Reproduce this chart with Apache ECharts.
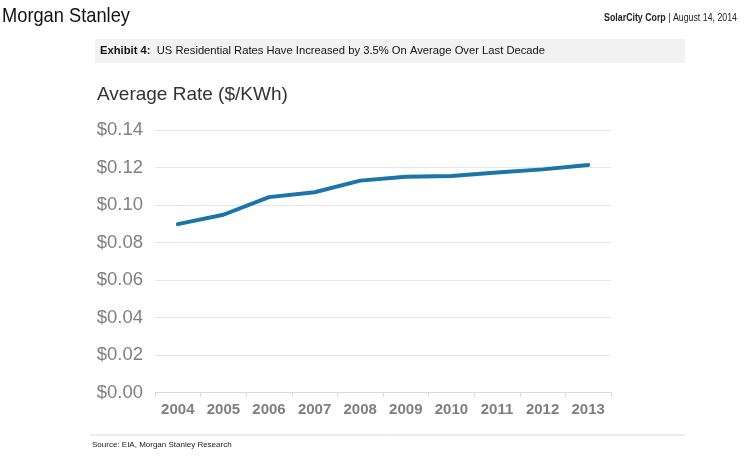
<!DOCTYPE html>
<html><head><meta charset="utf-8">
<script src="https://cdn.jsdelivr.net/npm/echarts@6/dist/echarts.min.js"></script>
<style>html,body{margin:0;padding:0;background:#fff}#c{width:745px;height:462px}</style>
</head><body><div id="c"></div>
<script>
var years = ['2004','2005','2006','2007','2008','2009','2010','2011','2012','2013'];
var rates = [0.0898, 0.0948, 0.1042, 0.1068, 0.1130, 0.1151, 0.1155, 0.1173, 0.1190, 0.1213];
var yTicks = [0, 0.02, 0.04, 0.06, 0.08, 0.10, 0.12, 0.14];

var chart = echarts.init(document.getElementById('c'), null, {renderer:'canvas'});
chart.setOption({
  animation:false,
  backgroundColor:'#fff',
  grid:{left:155, right:134, top:130, bottom:69.5, containLabel:false},
  xAxis:{
    type:'category', data:years, boundaryGap:true,
    axisLine:{show:true, lineStyle:{color:'#d9d9d9', width:1}},
    axisTick:{show:true, length:4, lineStyle:{color:'#d9d9d9'}},
    axisLabel:{color:'#7f7f7f', fontSize:15, fontWeight:'bold', fontFamily:'Liberation Sans, Arial', margin:10}
  },
  yAxis:{
    type:'value', min:yTicks[0], max:yTicks[yTicks.length-1], interval:0.02,
    axisLine:{show:false}, axisTick:{show:false},
    splitLine:{lineStyle:{color:'#e6e6e6', width:1}},
    axisLabel:{color:'#7f7f7f', fontSize:18.5, fontFamily:'Liberation Sans, Arial', margin:12,
      formatter:function(v){return '$'+v.toFixed(2);}}
  },
  series:[{
    type:'line', data:rates, symbol:'none', smooth:false,
    lineStyle:{color:'#1b75a8', width:4, cap:'round', join:'round'}
  }],
  graphic:[
    {type:'text', x:2, y:16, scaleX:0.87, style:{text:'Morgan Stanley', font:'21px "Liberation Sans", Arial', fill:'#111', textVerticalAlign:'middle'}},
    {type:'text', x:737, y:18, scaleX:0.88, originX:0, style:{text:'{b|SolarCity Corp} | August 14, 2014', font:'10px "Liberation Sans", Arial', fill:'#222', textAlign:'right', textVerticalAlign:'middle',
      rich:{b:{fontWeight:'bold', fontSize:10, fontFamily:'Liberation Sans, Arial', fill:'#222'}}}},
    {type:'rect', shape:{x:95, y:39, width:590, height:24}, style:{fill:'#f2f2f2'}},
    {type:'text', x:100, y:51, scaleX:1.02, style:{text:'{b|Exhibit 4:}  US Residential Rates Have Increased by 3.5% On Average Over Last Decade', textVerticalAlign:'middle',
      font:'11px "Liberation Sans", Arial', fill:'#111',
      rich:{b:{fontWeight:'bold', fontSize:11, fontFamily:'Liberation Sans, Arial', fill:'#111'}}}},
    {type:'text', x:97, y:95, style:{text:'Average Rate ($/KWh)', font:'19px "Liberation Sans", Arial', fill:'#333', textVerticalAlign:'middle'}},
    {type:'line', shape:{x1:90, y1:435, x2:685, y2:435}, style:{stroke:'#d9d9d9', lineWidth:1}},
    {type:'text', x:92, y:445, style:{text:'Source: EIA, Morgan Stanley Research', font:'8px "Liberation Sans", Arial', fill:'#222', textVerticalAlign:'middle'}}
  ]
});
</script>
</body></html>
